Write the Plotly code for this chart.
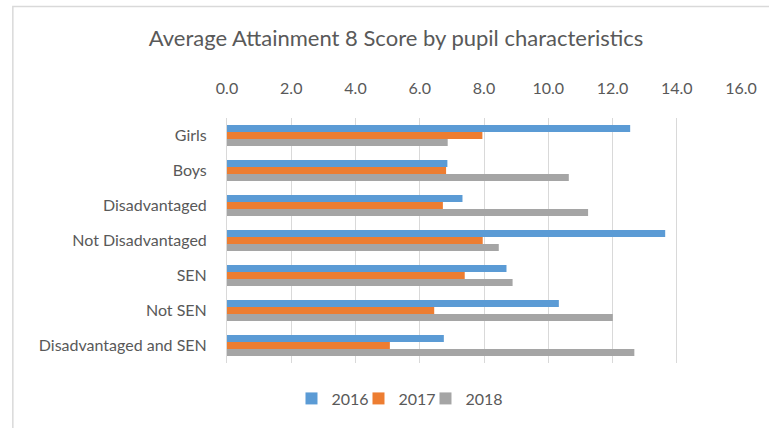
import plotly.graph_objects as go

categories = ["Girls", "Boys", "Disadvantaged", "Not Disadvantaged", "SEN", "Not SEN",
              "Disadvantaged and SEN"]
years = ["2016", "2017", "2018"]
scores_2016 = [12.55, 6.86, 7.33, 13.64, 8.70, 10.33, 6.75]
scores_2017 = [7.95, 6.82, 6.72, 7.96, 7.40, 6.45, 5.07]
scores_2018 = [6.87, 10.64, 11.24, 8.46, 8.89, 12.01, 12.68]
colors = ["#5B9BD5", "#ED7D31", "#A5A5A5"]

fig = go.Figure()
for name, vals, col in zip(years, [scores_2016, scores_2017, scores_2018], colors):
    fig.add_trace(go.Bar(y=categories, x=vals, name=name, orientation="h",
                         marker=dict(color=col, line=dict(width=0))))

fig.update_layout(
    width=769, height=428,
    paper_bgcolor="white", plot_bgcolor="white",
    font=dict(family="Lato", size=16, color="#595959"),
    title=dict(text="Average Attainment 8 Score by pupil characteristics",
               x=0.515, xanchor="center", y=0.91, yanchor="middle",
               font=dict(size=22, color="#595959")),
    margin=dict(l=227, r=26, t=118, b=64),
    barmode="group", bargap=0.4, bargroupgap=0,
    legend=dict(orientation="h", x=0.321, xanchor="center", y=-0.145, yanchor="middle",
                font=dict(size=16), itemwidth=30, entrywidth=22, traceorder="normal"),
)
fig.update_xaxes(side="top", range=[0, 16], dtick=2, tickformat=".1f",
                 showgrid=True, gridcolor="#D9D9D9", gridwidth=1,
                 zeroline=False, showline=False, ticks="", ticklabelstandoff=20)
fig.update_yaxes(autorange="reversed", showline=True, linecolor="#D9D9D9", linewidth=1,
                 ticks="", ticklabelstandoff=16, showgrid=False)

# chart frame (left and top edges visible)
fig.add_shape(type="rect", xref="paper", yref="paper",
              x0=(12 - 227) / 516, x1=(790 - 227) / 516,
              y0=(364 - 440) / 246, y1=(364 - 6) / 246,
              line=dict(color="#D9D9D9", width=1.5), fillcolor="rgba(0,0,0,0)")

# no page margin; let the last legend label show past the fixed entry width
js = ("document.body.style.margin='0px';"
      "document.querySelectorAll('.legend .scrollbox').forEach(function(e){e.removeAttribute('clip-path');});")
fig.write_html("out.html", config={"displayModeBar": False}, post_script=js)
